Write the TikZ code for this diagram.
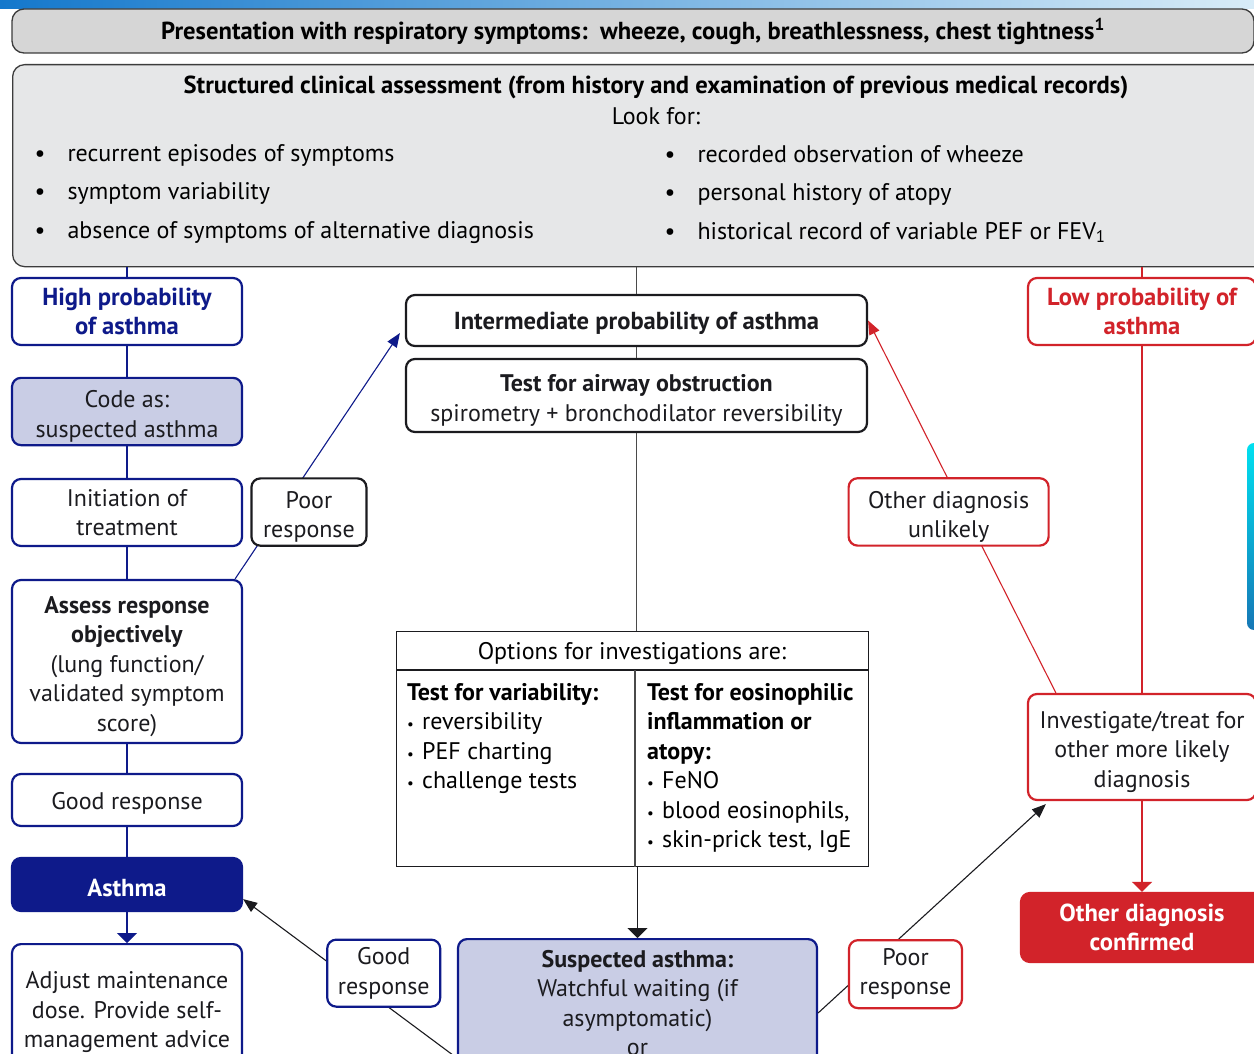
\documentclass[tikz,border=0pt]{standalone}
\usepackage{fontspec}
\setmainfont{PT Sans}
\setsansfont{PT Sans}
\usetikzlibrary{arrows.meta,positioning,calc}
\definecolor{ink}{HTML}{1B1B1F}
\definecolor{navy}{HTML}{0E1A8A}
\definecolor{lavender}{HTML}{C9CDE5}
\definecolor{alarm}{HTML}{D2232A}
\definecolor{headgray}{HTML}{D6D6D6}
\definecolor{panelgray}{HTML}{E6E7E8}
\definecolor{rimgray}{HTML}{3C3C3C}
\definecolor{linegray}{HTML}{4A4A4A}
\definecolor{bandblue}{HTML}{1478CC}
\definecolor{bandpale}{HTML}{D8ECF8}
\definecolor{barcyan}{HTML}{00E0F0}
\definecolor{bardeep}{HTML}{1677B5}
\newcommand{\bul}{\makebox[33pt][l]{\textbullet}}
\newcommand{\dotitem}{\makebox[15pt][l]{{\fontsize{15}{15}\selectfont\textbullet}}}
\newcommand{\lift}{\rule{0pt}{27pt}}

\begin{document}
\begin{tikzpicture}[
  x=1pt,y=-1pt,font=\fontsize{24}{29.5}\selectfont,
  box/.style={rounded corners=9pt,line width=2.2pt,fill=white,align=center,text=ink,inner sep=3pt,
    execute at begin node={\rule{0pt}{23.5pt}}},
  navybox/.style={box,draw=navy},
  redbox/.style={box,draw=alarm},
  blackbox/.style={box,draw=ink},
  head/.style={font=\bfseries\fontsize{24.6}{29.5}\selectfont},
  greybox/.style={rounded corners=12pt,line width=1.3pt,draw=rimgray,inner sep=0pt},
  link/.style={line width=1.1pt},
  diagarrow/.style={link,-{Triangle[length=14pt,width=11pt]}},
  droparrow/.style={link,-{Triangle[length=10pt,width=20pt]}}
]
\useasboundingbox (0,0) rectangle (1254,1054);
\clip (0,0) rectangle (1254,1054);
\fill[white] (0,0) rectangle (1254,1054);
\shade[left color=bandblue,right color=bandpale] (0,0) rectangle (1254,9);
\shade[top color=barcyan,bottom color=bardeep,rounded corners=7pt] (1247,443) rectangle (1266,630);

% Presentation and assessment
\node[greybox,fill=headgray,minimum width=1242,minimum height=44,head] (present) at (633,31)
  {Presentation with respiratory symptoms:\ \ wheeze, cough, breathlessness, chest tightness\textsuperscript{1}};
\node[greybox,fill=panelgray,minimum width=1290,minimum height=202,anchor=north west] (clinical) at (12,64) {};
\node[head] (cliniclabel) at (656,87) {Structured clinical assessment (from history and examination of previous medical records)};
\node (lookfor) at (656,116) {Look for:};
\node[anchor=west,align=left,font=\fontsize{24}{38.5}\selectfont] (leftlist) at (31,194)
  {\bul recurrent episodes of symptoms\\\bul symptom variability\\\bul absence of symptoms of alternative diagnosis};
\node[anchor=west,align=left,font=\fontsize{24}{38.5}\selectfont] (rightlist) at (661,194)
  {\bul recorded observation of wheeze\\\bul personal history of atopy\\\bul historical record of variable PEF or FEV\textsubscript{1}};

% High probability column
\node[navybox,minimum width=230,minimum height=67,head,text=navy] (high) at (127,311.5) {High probability\\of asthma};
\node[navybox,fill=lavender,minimum width=230,minimum height=67] (code) at (127,411.5) {\lift Code as:\\suspected asthma};
\node[navybox,minimum width=230,minimum height=67] (init) at (127,512.5) {Initiation of\\treatment};
\node[navybox,minimum width=230,minimum height=163] (assess) at (127,661.5)
  {\lift\textbf{Assess response}\\\textbf{objectively}\\(lung function/\\validated symptom\\score)};
\node[navybox,minimum width=230,minimum height=52] (goodL) at (127,800) {Good response};
\node[navybox,fill=navy,minimum width=230,minimum height=53,head,text=white] (asthma) at (127,884.5) {Asthma};
\node[navybox,minimum width=230,minimum height=136,anchor=north] (adjust) at (127,943)
  {Adjust maintenance\\dose. Provide self-\\management advice};

% Intermediate probability column
\node[blackbox,minimum width=461,minimum height=51,head] (inter) at (636.5,320.5) {Intermediate probability of asthma};
\node[blackbox,minimum width=461,minimum height=73] (airway) at (636.5,395.5)
  {\lift\textbf{Test for airway obstruction}\\spirometry + bronchodilator reversibility};
\node[draw=ink,line width=1.2pt,minimum width=472,minimum height=235,anchor=north west,inner sep=0pt] (options) at (396,631) {};
\draw[line width=1.2pt,draw=ink] ([yshift=-39pt]options.north west) -- ([yshift=-39pt]options.north east);
\draw[line width=1.2pt,draw=linegray] ([xshift=239pt,yshift=-39pt]options.north west) -- ([xshift=239pt]options.south west);
\node (optionshead) at (632,653) {Options for investigations are:};
\node[anchor=north west,align=left,inner sep=0pt] (variability) at (407,683)
  {\textbf{Test for variability:}\\\dotitem reversibility\\\dotitem PEF charting\\\dotitem challenge tests};
\node[anchor=north west,align=left,inner sep=0pt] (eosin) at (647,683)
  {\textbf{Test for eosinophilic}\\\textbf{inflammation or}\\\textbf{atopy:}\\\dotitem FeNO\\\dotitem blood eosinophils,\\\dotitem skin-prick test, IgE};
\node[navybox,fill=lavender,minimum width=359,minimum height=128,anchor=north] (suspect) at (637.5,938)
  {\textbf{Suspected asthma:}\\Watchful waiting (if\\asymptomatic)\\or};

% Low probability column
\node[redbox,minimum width=228,minimum height=67,head,text=alarm] (low) at (1142,311.5) {Low probability of\\asthma};
\node[redbox,minimum width=228,minimum height=106] (invest) at (1142,747)
  {\lift Investigate/treat for\\other more likely\\diagnosis};
\node[redbox,fill=alarm,minimum width=242,minimum height=69,head,text=white] (confirmed) at (1142,927.5)
  {Other diagnosis\\confirmed};

% Vertical links
\draw[link,navy] (high.north |- clinical.south) -- (high);
\draw[link,linegray] (inter.north |- clinical.south) -- (inter);
\draw[link,alarm] (low.north |- clinical.south) -- (low);
\draw[link,navy] (high) -- (code);
\draw[link,navy] (code) -- (init);
\draw[link,navy] (init) -- (assess);
\draw[link,navy] (assess) -- (goodL);
\draw[link,navy] (goodL) -- (asthma);
\draw[droparrow,navy] (asthma) -- (adjust);
\draw[link,linegray] (inter) -- (airway);
\draw[link,linegray] (airway.south) -- (airway.south |- options.north);
\draw[droparrow,ink] (suspect.north |- options.south) -- (suspect.north);
\draw[link,alarm] (low) -- (invest);
\draw[droparrow,alarm] (invest) -- (confirmed);

% Diagonal links with response labels
\draw[diagarrow,navy] ([xshift=-8pt]assess.north east)
  -- node[blackbox,pos=0.272,xshift=29pt,minimum width=115,minimum height=67] (poorL) {\lift Poor\\response}
  ([xshift=-5pt,yshift=14pt]inter.south west);
\draw[diagarrow,alarm] ([xshift=29pt]invest.north west)
  -- node[redbox,pos=0.486,xshift=-16pt,minimum width=200,minimum height=67] (unlikely) {\lift Other diagnosis\\unlikely}
  (inter.east);
\draw[diagarrow,ink] ([yshift=-120pt]suspect.north west)
  -- node[navybox,pos=0.534,xshift=41pt,minimum width=113,minimum height=67] (goodB) {Good\\response}
  ([yshift=13pt]asthma.south east);
\draw[diagarrow,ink] ([yshift=-75pt]suspect.north east)
  -- node[redbox,pos=0.186,xshift=45pt,minimum width=113,minimum height=68] (poorB) {Poor\\response}
  ([xshift=19pt,yshift=-3pt]invest.south west);
\end{tikzpicture}
\end{document}
